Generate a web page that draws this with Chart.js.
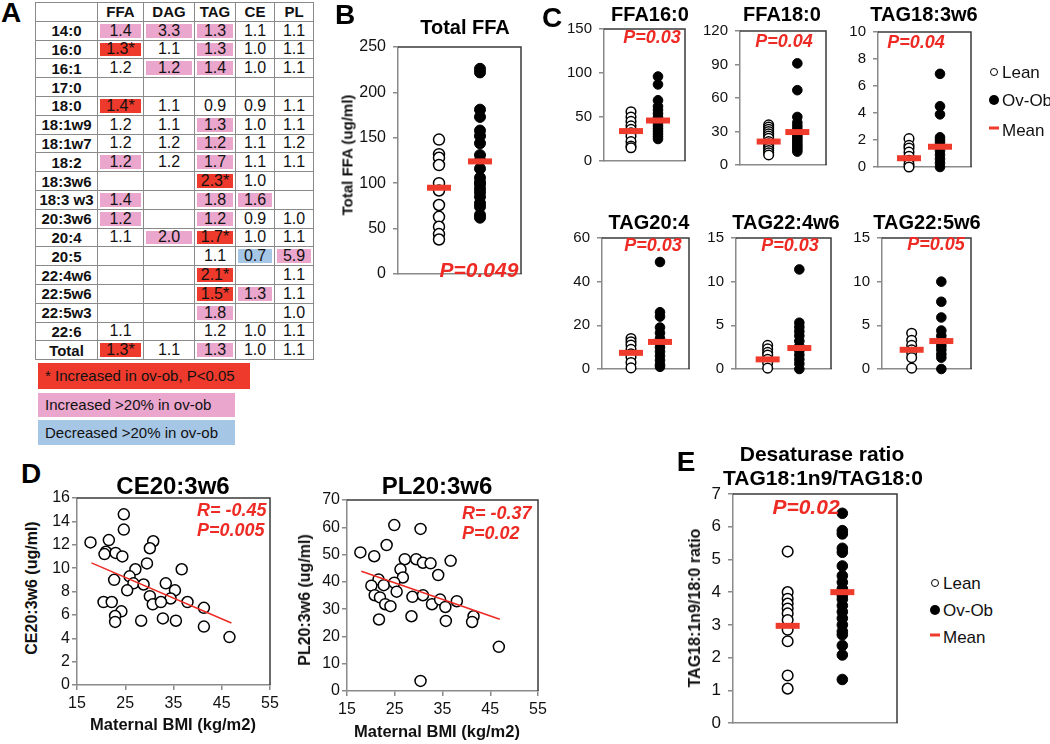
<!DOCTYPE html>
<html>
<head>
<meta charset="utf-8">
<script src="https://cdn.jsdelivr.net/npm/chart.js@4.4.0/dist/chart.umd.min.js"></script>
<style>
  body { margin: 0; background: #fff; font-family: Arial, "Liberation Sans", sans-serif; }
  #fig { position: relative; width: 1050px; height: 744px; overflow: hidden; }
  #fig canvas { position: absolute; }
  .t { position: absolute; white-space: nowrap; line-height: 1; color: #111; z-index: 2; }
  table.fc { position: absolute; left: 35px; top: 2px; border-collapse: collapse; font-size: 16px; z-index: 2; }
  table.fc td { border: 1px solid #8a8a8a; padding: 0; text-align: center; height: 17.8px; line-height: 1; color: #111; }
  table.fc td.rl, table.fc tr.hd td { font-weight: bold; font-size: 15px; }
  .key { position: absolute; left: 38px; width: 197px; font-size: 15px; padding-left: 7px; box-sizing: border-box; color: #111; }
  .sym { position: absolute; z-index: 2; transform: translate(-50%, -50%); }
</style>
</head>
<body>
<div id="fig"></div>
<script>
// ---- panel A: fold change ov-ob / lean
const lipidRows = ["14:0", "16:0", "16:1", "17:0", "18:0", "18:1w9", "18:1w7", "18:2", "18:3w6", "18:3 w3",
  "20:3w6", "20:4", "20:5", "22:4w6", "22:5w6", "22:5w3", "22:6", "Total"];
const lipidClasses = ["FFA", "DAG", "TAG", "CE", "PL"];
const foldChange = [
  ["1.4", "3.3", "1.3", "1.1", "1.1"],
  ["1.3*", "1.1", "1.3", "1.0", "1.1"],
  ["1.2", "1.2", "1.4", "1.0", "1.1"],
  ["", "", "", "", ""],
  ["1.4*", "1.1", "0.9", "0.9", "1.1"],
  ["1.2", "1.1", "1.3", "1.0", "1.1"],
  ["1.2", "1.2", "1.2", "1.1", "1.2"],
  ["1.2", "1.2", "1.7", "1.1", "1.1"],
  ["", "", "2.3*", "1.0", ""],
  ["1.4", "", "1.8", "1.6", ""],
  ["1.2", "", "1.2", "0.9", "1.0"],
  ["1.1", "2.0", "1.7*", "1.0", "1.1"],
  ["", "", "1.1", "0.7", "5.9"],
  ["", "", "2.1*", "", "1.1"],
  ["", "", "1.5*", "1.3", "1.1"],
  ["", "", "1.8", "", "1.0"],
  ["1.1", "", "1.2", "1.0", "1.1"],
  ["1.3*", "1.1", "1.3", "1.0", "1.1"],
];
// s = increased P<0.05, u = increased >20%, d = decreased >20%
const changeClass = ["uuu..", "s.u..", ".uu..", ".....", "s....", "..u..", "..u..", "u.u..", "..s..",
  "u.uu.", "u.u..", ".us..", "...du", "..s..", "..su.", "..u..", ".....", "s.u.."];
const keyLabels = ["* Increased in ov-ob, P<0.05", "Increased >20% in ov-ob", "Decreased >20% in ov-ob"];

// ---- panel B
const totalFfaLean = [148, 132, 128, 120, 100, 92, 76, 63, 52, 44, 38];
const totalFfaOvOb = [226, 222, 181, 173, 158, 152, 144, 131, 125, 116, 106, 101, 99, 94, 90, 85, 78, 74, 65, 62];
const totalFfaMean = [95, 124];

// ---- panel C
const ffa160Lean = [56, 50, 45, 40, 36, 32, 28, 22, 17, 15];
const ffa160OvOb = [96, 87, 69, 62, 58, 54, 50, 46, 43, 40, 37, 34, 31, 28, 25];
const ffa160Mean = [34, 46];
const ffa180Lean = [36, 34, 32, 30, 28, 26, 24, 21, 19, 17, 15, 13, 11, 9];
const ffa180OvOb = [91, 67, 43, 38, 35, 32, 30, 28, 26, 24, 22, 20, 18, 16, 14, 12];
const ffa180Mean = [21, 29.5];
const tag183Lean = [2.1, 1.6, 1.4, 1.1, 0.8, 0.5, 0.2, 0];
const tag183OvOb = [6.9, 4.5, 3.9, 2.2, 2.0, 1.8, 1.5, 1.2, 0.9, 0.6, 0.3, 0];
const tag183Mean = [0.65, 1.5];
const tag204Lean = [14, 12.5, 11, 9, 7, 5.5, 3, 0.5];
const tag204OvOb = [49, 26, 24, 19, 16.5, 14, 12, 10, 8, 6, 4, 2, 1];
const tag204Mean = [7.4, 12.4];
const tag224Lean = [2.7, 2.3, 1.9, 1.6, 1.1, 0.7, 0.1];
const tag224OvOb = [11.4, 5.3, 4.8, 4.3, 3.8, 3.2, 2.6, 2.1, 1.6, 1.1, 0.6, 0];
const tag224Mean = [1.1, 2.4];
const tag225Lean = [4.1, 3.3, 2.7, 2.2, 1.9, 1.3, 0.1];
const tag225OvOb = [10, 7.7, 5.9, 4.4, 3.8, 3.3, 3.0, 2.6, 2.2, 1.7, 1.3, 0];
const tag225Mean = [2.2, 3.2];

// ---- panel D
const bmiCE = [17.8, 21.6, 21.0, 20.7, 23.0, 24.4, 24.7, 24.7, 30.8, 30.1, 29.5, 27.1, 36.7, 25.9, 22.7, 26.7, 28.8, 25.4,
  33.4, 35.3, 30.1, 34.4, 30.7, 32.4, 37.9, 41.3, 20.5, 22.2, 24.2, 22.9, 22.9, 28.3, 32.8, 35.5, 41.3, 46.6];
const ce203w6 = [12.2, 12.4, 11.4, 11.2, 11.3, 11.0, 14.6, 13.3, 12.3, 11.7, 10.4, 9.9, 9.9, 9.3, 9.0, 8.7, 8.6, 8.1,
  8.7, 8.1, 7.6, 7.4, 6.9, 7.1, 7.1, 6.6, 7.1, 7.1, 6.3, 5.9, 5.4, 5.5, 5.7, 5.5, 5.0, 4.1];
const ceTrendX = [18, 47];
const ceTrendY = [10.45, 5.3];
const bmiPL = [17.8, 20.7, 23.3, 24.9, 30.4, 27.1, 29.5, 30.9, 32.5, 36.7, 26.2, 26.7, 34.1, 21.6, 20.1, 22.7, 24.9, 25.4,
  20.8, 21.9, 23.0, 24.1, 28.7, 30.9, 32.8, 34.5, 35.6, 38.0, 41.5, 41.2, 35.7, 28.5, 21.7, 46.8, 30.4];
const pl203w6 = [50.8, 49.4, 53.5, 60.8, 59.4, 48.3, 48.3, 47.0, 46.8, 47.7, 44.6, 41.6, 42.5, 40.9, 38.6, 38.8, 39.7, 36.4,
  35.1, 34.3, 31.8, 31.1, 34.5, 35.1, 31.8, 33.5, 30.8, 32.9, 27.4, 25.3, 25.7, 27.4, 26.2, 16.2, 3.7];
const plTrendX = [18, 47];
const plTrendY = [43.9, 26.3];

// ---- panel E
const desatLean = [5.24, 4.0, 3.8, 3.65, 3.5, 3.35, 3.15, 2.85, 2.5, 1.45, 1.05];
const desatOvOb = [6.41, 5.88, 5.78, 5.34, 5.22, 4.8, 4.5, 4.3, 4.1, 3.9, 3.78, 3.59, 3.4, 3.2, 3.0, 2.8, 2.7, 2.37, 2.08, 1.33];
const desatMean = [2.97, 4.0];

const RED = "#ee2a24";
const MEAN = "#ef3b2c";
const AXIS = "#8a8a8a";
const FONT = "Arial, 'Liberation Sans', sans-serif";
const fig = document.getElementById("fig");

function txt(s, x, y, css, mode) {
  const d = document.createElement("div");
  d.className = "t";
  d.textContent = s;
  d.style.left = x + "px";
  d.style.top = y + "px";
  Object.assign(d.style, css || {});
  if (mode === "l") d.style.transform = "translate(0,-50%)";
  else if (mode === "r") d.style.transform = "translate(-50%,-50%) rotate(-90deg)";
  else d.style.transform = "translate(-50%,-50%)";
  fig.appendChild(d);
}

// canvas placed so that the chart area lands on plot = [left, top, right, bottom]
function makeCanvas(plot, yW, xH, padT, padR) {
  const c = document.createElement("canvas");
  const left = plot[0] - yW, top = plot[1] - padT;
  const w = plot[2] - left + padR, h = plot[3] - top + xH;
  c.width = w; c.height = h;
  c.style.left = left + "px"; c.style.top = top + "px";
  c.style.width = w + "px"; c.style.height = h + "px";
  fig.appendChild(c);
  return c;
}

// top and right sides of the plot box
const framePlugin = {
  id: "frame",
  beforeDatasetsDraw(chart) {
    const a = chart.chartArea, ctx = chart.ctx;
    ctx.save();
    ctx.strokeStyle = "#3a3a3a";
    ctx.lineWidth = 1.5;
    ctx.beginPath();
    ctx.moveTo(a.left, a.top);
    ctx.lineTo(a.right, a.top);
    ctx.lineTo(a.right, a.bottom);
    ctx.stroke();
    ctx.restore();
  },
};

function yScale(max, step, size, yW, pad) {
  return {
    min: 0, max: max,
    ticks: { stepSize: step, color: "#111", padding: pad, font: { size: size, family: FONT } },
    grid: { drawOnChartArea: false, tickLength: 5, color: AXIS, lineWidth: 1.5 },
    border: { color: AXIS, width: 1.5 },
    afterFit(s) { s.width = yW; },
  };
}

function dotPlot(plot, lean, ovob, mean, max, step, fontSize, r) {
  const yW = 44, xH = 12;
  const c = makeCanvas(plot, yW, xH, 14, 6);
  new Chart(c, {
    type: "scatter",
    data: {
      datasets: [
        { data: [{ x: 1, y: mean[0] }, { x: 2, y: mean[1] }], pointStyle: "line", pointRadius: 12,
          pointBorderWidth: 6, pointBorderColor: MEAN, clip: false },
        { data: ovob.map((v) => ({ x: 2, y: v })), pointRadius: r, pointBorderWidth: 1,
          pointBackgroundColor: "#000", pointBorderColor: "#000", clip: false },
        { data: lean.map((v) => ({ x: 1, y: v })), pointRadius: r, pointBorderWidth: 1.5,
          pointBackgroundColor: "#fff", pointBorderColor: "#000", clip: false },
      ],
    },
    options: {
      responsive: false, animation: false, events: [],
      layout: { padding: { top: 14, right: 6, left: 0, bottom: 0 } },
      plugins: { legend: { display: false }, tooltip: { enabled: false } },
      scales: {
        x: { type: "linear", min: 0, max: 3, ticks: { display: false }, grid: { display: false },
          border: { color: AXIS, width: 1.5 }, afterFit(s) { s.height = xH; } },
        y: yScale(max, step, fontSize, yW, 7),
      },
    },
    plugins: [framePlugin],
  });
}

function bmiPlot(plot, xs, ys, trendX, trendY, max, step) {
  const yW = 32, xH = 30;
  const c = makeCanvas(plot, yW, xH, 14, 16);
  new Chart(c, {
    type: "scatter",
    data: {
      datasets: [
        { data: trendX.map((x, i) => ({ x: x, y: trendY[i] })), showLine: true, borderColor: RED,
          borderWidth: 1.5, pointRadius: 0, clip: false },
        { data: xs.map((x, i) => ({ x: x, y: ys[i] })), pointRadius: 5.5, pointBorderWidth: 1.5,
          pointBackgroundColor: "#fff", pointBorderColor: "#000", clip: false },
      ],
    },
    options: {
      responsive: false, animation: false, events: [],
      layout: { padding: { top: 14, right: 16, left: 0, bottom: 0 } },
      plugins: { legend: { display: false }, tooltip: { enabled: false } },
      scales: {
        x: { type: "linear", min: 15, max: 55,
          ticks: { stepSize: 10, color: "#111", padding: 4, font: { size: 16, family: FONT } },
          grid: { drawOnChartArea: false, tickLength: 5, color: AXIS, lineWidth: 1.5 },
          border: { color: AXIS, width: 1.5 }, afterFit(s) { s.height = xH; } },
        y: yScale(max, step, 16, yW, 2),
      },
    },
    plugins: [framePlugin],
  });
}

// ---------- panel A table
const table = document.createElement("table");
table.className = "fc";
const colW = [62, 46, 51, 41, 39, 39];
const shade = { s: "#ee3a2c", u: "#eaa6cc", d: "#a6c6e6" };
let html = '<tr class="hd">' + ["", ...lipidClasses].map((h, i) => '<td style="width:' + (colW[i] - 1) + 'px">' + h + "</td>").join("") + "</tr>";
lipidRows.forEach((row, r) => {
  html += '<tr><td class="rl">' + row + "</td>";
  foldChange[r].forEach((v, k) => {
    const cls = changeClass[r][k];
    const st = shade[cls] ? ' style="background:' + shade[cls] + ';box-shadow:inset 0 0 0 2px #fff"' : "";
    html += "<td" + st + ">" + v + "</td>";
  });
  html += "</tr>";
});
table.innerHTML = html;
fig.appendChild(table);

const keyBoxes = [
  { top: 363, h: 26, w: 212, bg: "#ee3a2c" },
  { top: 393, h: 24, w: 197, bg: "#eaa6cc" },
  { top: 420, h: 25, w: 197, bg: "#a6c6e6" },
];
keyBoxes.forEach((k, i) => {
  const d = document.createElement("div");
  d.className = "key";
  d.textContent = keyLabels[i];
  Object.assign(d.style, { top: k.top + "px", height: k.h + "px", width: k.w + "px", lineHeight: k.h + "px", background: k.bg });
  fig.appendChild(d);
});

// ---------- charts
dotPlot([398, 43, 533, 280], totalFfaLean, totalFfaOvOb, totalFfaMean, 250, 50, 16, 5.5);
dotPlot([604, 25, 697, 167], ffa160Lean, ffa160OvOb, ffa160Mean, 150, 50, 15, 4.8);
dotPlot([740, 27, 838, 171], ffa180Lean, ffa180OvOb, ffa180Mean, 120, 30, 15, 4.8);
dotPlot([878, 28, 983, 173], tag183Lean, tag183OvOb, tag183Mean, 10, 2, 15, 4.8);
dotPlot([602, 234, 701, 375], tag204Lean, tag204OvOb, tag204Mean, 60, 20, 15, 4.8);
dotPlot([736, 234, 843, 375], tag224Lean, tag224OvOb, tag224Mean, 15, 5, 15, 4.8);
dotPlot([882, 234, 983, 375], tag225Lean, tag225OvOb, tag225Mean, 15, 5, 15, 4.8);
dotPlot([733, 490, 909, 729], desatLean, desatOvOb, desatMean, 7, 1, 17, 5.3);
bmiPlot([77, 498, 270, 685], bmiCE, ce203w6, ceTrendX, ceTrendY, 16, 2);
bmiPlot([347, 500, 538, 691], bmiPL, pl203w6, plTrendX, plTrendY, 70, 10);

// ---------- texts
const letter = { fontSize: "28px", fontWeight: "bold", color: "#000" };
txt("A", 11, 13, letter);
txt("B", 345, 15, letter);
txt("C", 552, 18, letter);
txt("D", 31, 474, letter);
txt("E", 686, 462, letter);

const t20 = { fontSize: "20px", fontWeight: "bold", color: "#000" };
txt("Total FFA", 465, 27, t20);
txt("FFA16:0", 650, 14, t20);
txt("FFA18:0", 782, 14, t20);
txt("TAG18:3w6", 924, 14, t20);
txt("TAG20:4", 649, 222, t20);
txt("TAG22:4w6", 786, 222, t20);
txt("TAG22:5w6", 927, 222, t20);
const t24 = { fontSize: "24px", fontWeight: "bold", color: "#000" };
txt("CE20:3w6", 173, 486, t24);
txt("PL20:3w6", 437, 486, t24);
const t21 = { fontSize: "21px", fontWeight: "bold", color: "#000" };
txt("Desaturase ratio", 822, 453, t21);
txt("TAG18:1n9/TAG18:0", 823, 477, t21);

const pBig = { fontSize: "21px", fontWeight: "bold", fontStyle: "italic", color: RED };
const pSmall = { fontSize: "18px", fontWeight: "bold", fontStyle: "italic", color: RED };
txt("P=0.049", 479, 269, pBig);
txt("P=0.03", 652, 37, pSmall);
txt("P=0.04", 784, 41, pSmall);
txt("P=0.04", 916, 42, pSmall);
txt("P=0.03", 653, 245, pSmall);
txt("P=0.03", 790, 245, pSmall);
txt("P=0.05", 936, 244, pSmall);
txt("R= -0.45", 197, 510, pSmall, "l");
txt("P=0.005", 197, 530, pSmall, "l");
txt("R= -0.37", 462, 513, pSmall, "l");
txt("P=0.02", 462, 533, pSmall, "l");
txt("P=0.02", 806, 506, pBig);

txt("Total FFA (ug/ml)", 347, 155, { fontSize: "15px", fontWeight: "bold" }, "r");
txt("CE20:3w6 (ug/ml)", 32, 588, { fontSize: "16px", fontWeight: "bold" }, "r");
txt("PL20:3w6 (ug/ml)", 305, 600, { fontSize: "16px", fontWeight: "bold" }, "r");
txt("TAG18:1n9/18:0 ratio", 695, 608, { fontSize: "16px", fontWeight: "bold" }, "r");
txt("Maternal BMI (kg/m2)", 173, 724, { fontSize: "16.5px", fontWeight: "bold" });
txt("Maternal BMI (kg/m2)", 437, 731, { fontSize: "16.5px", fontWeight: "bold" });

// ---------- legends
const legendNames = ["Lean", "Ov-Ob", "Mean"];
function sym(kind, x, y) {
  const d = document.createElement("div");
  d.className = "sym";
  d.style.left = x + "px";
  d.style.top = y + "px";
  if (kind === 0) Object.assign(d.style, { width: "6px", height: "6px", border: "1.3px solid #000", borderRadius: "50%", background: "#fff" });
  else if (kind === 1) Object.assign(d.style, { width: "10px", height: "10px", borderRadius: "50%", background: "#000" });
  else Object.assign(d.style, { width: "10px", height: "3px", background: MEAN });
  fig.appendChild(d);
}
function legend(sx, tx, ys) {
  legendNames.forEach((n, i) => {
    sym(i, sx, ys[i] - (i === 2 ? 2 : 0));
    txt(n, tx, ys[i], { fontSize: "17px" }, "l");
  });
}
legend(994, 1002, [72, 100, 130]);
legend(935, 943, [583, 610, 637]);
</script>
</body>
</html>
